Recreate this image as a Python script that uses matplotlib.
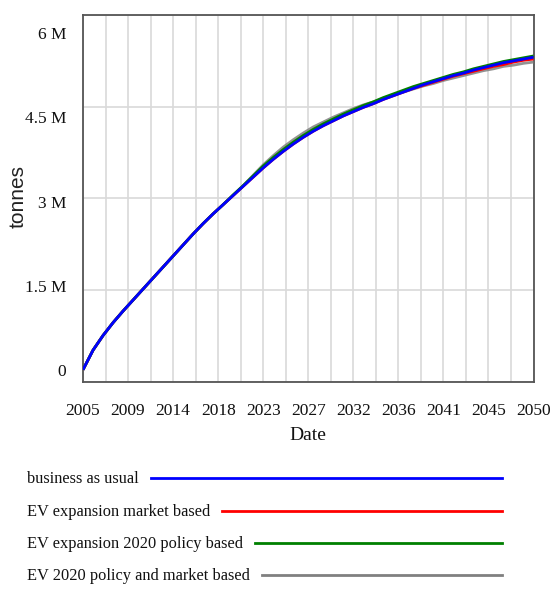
import matplotlib
matplotlib.use("Agg")
import matplotlib.pyplot as plt
from matplotlib.lines import Line2D
from matplotlib.ticker import FixedLocator, FuncFormatter
from matplotlib.transforms import ScaledTranslation

# ---------------- data (tonnes, millions) ----------------
years = list(range(2005, 2051))
business_as_usual = [0.20, 0.52, 0.76, 0.97, 1.16, 1.34, 1.52, 1.70, 1.88, 2.06,
                     2.24, 2.42, 2.59, 2.75, 2.90, 3.05, 3.20, 3.35, 3.50, 3.64,
                     3.77, 3.89, 4.00, 4.10, 4.19, 4.27, 4.35, 4.42, 4.49, 4.55,
                     4.62, 4.68, 4.74, 4.80, 4.86, 4.91, 4.96, 5.01, 5.05, 5.10,
                     5.14, 5.18, 5.22, 5.25, 5.28, 5.31]
ev_market = [0.20, 0.52, 0.76, 0.97, 1.16, 1.34, 1.52, 1.70, 1.88, 2.06,
             2.24, 2.42, 2.59, 2.75, 2.90, 3.05, 3.20, 3.35, 3.50, 3.64,
             3.77, 3.89, 4.00, 4.10, 4.19, 4.27, 4.35, 4.42, 4.49, 4.55,
             4.62, 4.68, 4.74, 4.80, 4.85, 4.90, 4.95, 5.00, 5.04, 5.08,
             5.12, 5.16, 5.19, 5.23, 5.26, 5.28]
ev_policy = [0.20, 0.52, 0.76, 0.97, 1.16, 1.34, 1.52, 1.70, 1.88, 2.06,
             2.24, 2.42, 2.59, 2.75, 2.90, 3.06, 3.21, 3.37, 3.53, 3.67,
             3.80, 3.92, 4.03, 4.13, 4.22, 4.30, 4.38, 4.45, 4.52, 4.58,
             4.65, 4.71, 4.77, 4.83, 4.88, 4.93, 4.98, 5.03, 5.07, 5.12,
             5.16, 5.20, 5.24, 5.27, 5.30, 5.33]
ev_policy_market = [0.20, 0.52, 0.76, 0.97, 1.16, 1.34, 1.52, 1.70, 1.88, 2.06,
                    2.24, 2.42, 2.59, 2.75, 2.90, 3.05, 3.21, 3.38, 3.55, 3.70,
                    3.84, 3.96, 4.07, 4.17, 4.25, 4.33, 4.40, 4.47, 4.53, 4.58,
                    4.64, 4.69, 4.74, 4.79, 4.84, 4.88, 4.93, 4.97, 5.01, 5.05,
                    5.09, 5.12, 5.16, 5.18, 5.21, 5.23]

series_names = ["business as usual", "EV expansion market based",
                "EV expansion 2020 policy based", "EV 2020 policy and market based"]
series_values = [business_as_usual, ev_market, ev_policy, ev_policy_market]
series_colors = ["#0000ff", "#ff0000", "#008000", "#808080"]

x_tick_values = [2005 + 4.5 * k for k in range(11)]
x_grid_values = [2005 + 2.25 * k for k in range(21)]
y_tick_values = [0, 1.5e6, 3e6, 4.5e6, 6e6]
y_tick_labels = ["0", "1.5 M", "3 M", "4.5 M", "6 M"]

# ---------------- figure ----------------
W, H = 552, 589
fig = plt.figure(figsize=(W / 100, H / 100), dpi=100)
ax = fig.add_axes([83 / W, 1 - 382 / H, 450.5 / W, 367 / H])

serif = ["Liberation Serif", "DejaVu Serif"]

# draw order: gray first, blue on top
order = [3, 1, 2, 0]
for i in order:
    vals = [v * 1e6 for v in series_values[i]]
    alpha = 0.85 if i == 3 else 1.0
    ax.plot(years, vals, color=series_colors[i], lw=2.0, alpha=alpha,
            solid_capstyle="butt", solid_joinstyle="round", zorder=3 + (i == 0))

ax.set_xlim(2005, 2050)
ax.set_ylim(0, 6e6)

ax.xaxis.set_major_locator(FixedLocator(x_tick_values))
ax.xaxis.set_minor_locator(FixedLocator(x_grid_values))
ax.xaxis.set_major_formatter(FuncFormatter(lambda v, p: str(int(v))))
ax.yaxis.set_major_locator(FixedLocator(y_tick_values))
ax.yaxis.set_major_formatter(FuncFormatter(
    lambda v, p: y_tick_labels[y_tick_values.index(v)] if v in y_tick_values else ""))

ax.grid(True, which="both", axis="x", color="#d9d9d9", lw=1.2, zorder=0)
ax.grid(True, which="major", axis="y", color="#d9d9d9", lw=1.2, zorder=0)
ax.set_axisbelow(True)

ax.tick_params(axis="both", which="both", length=0)
ax.tick_params(axis="x", pad=15)
ax.tick_params(axis="y", pad=12)
for lab in ax.get_xticklabels() + ax.get_yticklabels():
    lab.set_fontfamily(serif)
    lab.set_fontsize(12.5)
    lab.set_color("#111111")

# Vensim-style label placement: y labels slightly off the grid lines
fig.canvas.draw()
for lab, v in zip(ax.get_yticklabels(), y_tick_values):
    off_px = 18 - (6e6 - v) / 1.5e6 * 7.5
    lab.set_transform(lab.get_transform() +
                      ScaledTranslation(0, -off_px / 100, fig.dpi_scale_trans))

for sp in ax.spines.values():
    sp.set_color("#555555")
    sp.set_linewidth(1.3)

ax.set_xlabel("Date", fontfamily=serif, fontsize=14, color="#111111", labelpad=6)
fig.text(18 / W, 1 - 197 / H, "tonnes", rotation=90, ha="center", va="center",
         fontfamily=["Liberation Sans", "DejaVu Sans"], fontsize=15, color="#222222")

# ---------------- legend (manual, Vensim style) ----------------
legend_y = [479, 512, 544, 576]
text_objs = []
for name, yy in zip(series_names, legend_y):
    t = fig.text(27 / W, 1 - yy / H, name, ha="left", va="center",
                 fontfamily=serif, fontsize=11.8, color="#111111")
    text_objs.append(t)
fig.canvas.draw()
renderer = fig.canvas.get_renderer()
for t, col, yy in zip(text_objs, series_colors, legend_y):
    bb = t.get_window_extent(renderer)
    x0 = (bb.x1 + 12) / W
    x1 = 502 / W
    ln = Line2D([x0, x1], [1 - (yy - 1) / H] * 2, transform=fig.transFigure,
                color=col, lw=2.0)
    fig.add_artist(ln)

fig.savefig("out.png", dpi=100)
